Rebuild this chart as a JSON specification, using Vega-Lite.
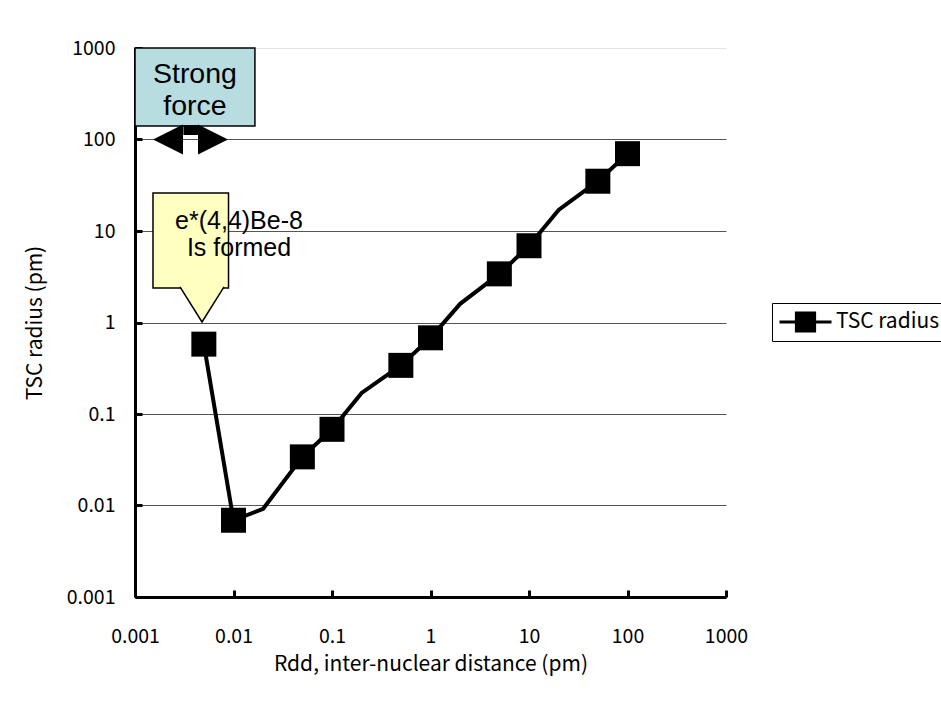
{
  "$schema": "https://vega.github.io/schema/vega-lite/v6.json",
  "width": 591,
  "height": 549,
  "autosize": {"type": "none"},
  "padding": {"left": 135, "top": 48, "right": 215, "bottom": 114},
  "background": "white",
  "config": {
    "font": "Liberation Sans",
    "view": {"stroke": null}
  },
  "datasets": {
    "curve": [
      {"x": 0.005, "y": 0.58, "series": "TSC radius"},
      {"x": 0.01, "y": 0.0069, "series": "TSC radius"},
      {"x": 0.02, "y": 0.0092, "series": "TSC radius"},
      {"x": 0.05, "y": 0.034, "series": "TSC radius"},
      {"x": 0.1, "y": 0.068, "series": "TSC radius"},
      {"x": 0.2, "y": 0.17, "series": "TSC radius"},
      {"x": 0.5, "y": 0.34, "series": "TSC radius"},
      {"x": 1, "y": 0.68, "series": "TSC radius"},
      {"x": 2, "y": 1.6, "series": "TSC radius"},
      {"x": 5, "y": 3.4, "series": "TSC radius"},
      {"x": 10, "y": 6.9, "series": "TSC radius"},
      {"x": 20, "y": 17, "series": "TSC radius"},
      {"x": 50, "y": 35, "series": "TSC radius"},
      {"x": 100, "y": 70, "series": "TSC radius"}
    ],
    "markers": [
      {"x": 0.005, "y": 0.58, "series": "TSC radius"},
      {"x": 0.01, "y": 0.0069, "series": "TSC radius"},
      {"x": 0.05, "y": 0.034, "series": "TSC radius"},
      {"x": 0.1, "y": 0.068, "series": "TSC radius"},
      {"x": 0.5, "y": 0.34, "series": "TSC radius"},
      {"x": 1, "y": 0.68, "series": "TSC radius"},
      {"x": 5, "y": 3.4, "series": "TSC radius"},
      {"x": 10, "y": 6.9, "series": "TSC radius"},
      {"x": 50, "y": 35, "series": "TSC radius"},
      {"x": 100, "y": 70, "series": "TSC radius"}
    ]
  },
  "encoding": {
    "x": {
      "field": "x",
      "type": "quantitative",
      "scale": {"type": "log", "domain": [0.001, 1000], "nice": false},
      "axis": {
        "title": "Rdd, inter-nuclear distance (pm)",
        "values": [0.001, 0.01, 0.1, 1, 10, 100, 1000],
        "format": "~g",
        "grid": false,
        "domainColor": "black",
        "domainWidth": 3,
        "tickColor": "black",
        "tickWidth": 3,
        "tickSize": -7,
        "labelPadding": 37,
        "labelFont": "Noto Sans CJK JP",
        "labelFontSize": 19.5,
        "labelColor": "black",
        "labelFlush": false,
        "labelOverlap": false,
        "labelBound": false,
        "titleFont": "Noto Sans CJK JP",
        "titleFontSize": 21,
        "titleFontWeight": "normal",
        "titleColor": "black",
        "titleY": 67,
        "titleBaseline": "middle"
      }
    },
    "y": {
      "field": "y",
      "type": "quantitative",
      "scale": {"type": "log", "domain": [0.001, 1000], "nice": false},
      "axis": {
        "title": "TSC radius (pm)",
        "values": [0.001, 0.01, 0.1, 1, 10, 100, 1000],
        "format": "~g",
        "grid": true,
        "gridColor": {"condition": {"test": "datum.value >= 1000", "value": "#e3e3e3"}, "value": "#555555"},
        "gridWidth": 1,
        "domainColor": "black",
        "domainWidth": 3,
        "tickColor": "black",
        "tickWidth": 3,
        "tickSize": -7,
        "labelPadding": 27,
        "labelFont": "Noto Sans CJK JP",
        "labelFontSize": 19.5,
        "labelColor": "black",
        "labelFlush": false,
        "labelOverlap": false,
        "labelBound": false,
        "titleFont": "Noto Sans CJK JP",
        "titleFontSize": 21,
        "titleFontWeight": "normal",
        "titleColor": "black",
        "titleX": -100,
        "titleY": 274.5,
        "titleAngle": -90,
        "titleAlign": "center",
        "titleBaseline": "middle"
      }
    }
  },
  "layer": [
    {
      "data": {"values": [{"x": 0.001, "x2": 0.0165, "y": 140.6, "y2": 1000}]},
      "mark": {"type": "rect", "fill": "#b7dde1", "stroke": "black", "strokeWidth": 1.5},
      "encoding": {"x2": {"field": "x2"}, "y2": {"field": "y2"}}
    },
    {
      "data": {"values": [{"x": 0.00406, "y": 520, "label": "Strong\nforce"}]},
      "mark": {"type": "text", "font": "Liberation Sans", "fontSize": 28.5, "lineBreak": "\n", "lineHeight": 32, "align": "center", "baseline": "middle", "color": "black"},
      "encoding": {"text": {"field": "label"}}
    },
    {
      "data": {"values": [{"x": 0.0031, "x2": 0.0044, "y": 127}]},
      "mark": {"type": "rule", "strokeWidth": 10, "color": "black"},
      "encoding": {"x2": {"field": "x2"}}
    },
    {
      "data": {"values": [{"x": 0.002163, "y": 100}]},
      "mark": {"type": "point", "shape": "M-1,0L1,-1L1,1Z", "size": 900, "filled": true, "color": "black", "opacity": 1},
      "encoding": {}
    },
    {
      "data": {"values": [{"x": 0.006194, "y": 100}]},
      "mark": {"type": "point", "shape": "M1,0L-1,-1L-1,1Z", "size": 900, "filled": true, "color": "black", "opacity": 1},
      "encoding": {}
    },
    {
      "data": {"values": [{"x": 0.001523, "x2": 0.0089, "y": 2.38, "y2": 26.0}]},
      "mark": {"type": "rect", "fill": "#ffffc0", "stroke": "black", "strokeWidth": 1.5},
      "encoding": {"x2": {"field": "x2"}, "y2": {"field": "y2"}}
    },
    {
      "data": {"values": [{"x": 0.00479, "y": 1.553}]},
      "mark": {"type": "point", "shape": "M-1,-0.82L0,0.773L1,-0.82", "size": 1936, "fill": "#ffffc0", "stroke": "black", "strokeWidth": 1.5, "opacity": 1, "fillOpacity": 1},
      "encoding": {}
    },
    {
      "data": {"values": [{"x": 0.01137, "y": 12.86, "label": "e*(4,4)Be-8\nIs formed"}]},
      "mark": {"type": "text", "font": "Liberation Sans", "fontSize": 25, "lineBreak": "\n", "lineHeight": 27, "align": "center", "baseline": "middle", "color": "black"},
      "encoding": {"text": {"field": "label"}}
    },
    {
      "data": {"name": "curve"},
      "mark": {"type": "line", "strokeWidth": 4, "interpolate": "linear"},
      "encoding": {
        "color": {
          "field": "series",
          "type": "nominal",
          "scale": {"domain": ["TSC radius"], "range": ["black"]},
          "legend": {
            "orient": "none",
            "legendX": 637,
            "legendY": 255,
            "title": null,
            "padding": 6,
            "strokeColor": "black",
            "fillColor": "white",
            "cornerRadius": 0,
            "symbolType": "M-1,0H1M-0.35,-0.35H0.35V0.35H-0.35Z",
            "symbolSize": 2704,
            "symbolStrokeWidth": 3,
            "symbolFillColor": "black",
            "symbolStrokeColor": "black",
            "symbolOpacity": 1,
            "clipHeight": 26,
            "labelFont": "Noto Sans CJK JP",
            "labelFontSize": 21,
            "labelOffset": 3,
            "labelColor": "black",
            "labelLimit": 300,
            "encode": {
              "symbols": {
                "update": {
                  "fill": {"value": "black"},
                  "stroke": {"value": "black"},
                  "strokeWidth": {"value": 3},
                  "opacity": {"value": 1},
                  "shape": {"value": "M-1,0H1M-0.35,-0.35H0.35V0.35H-0.35Z"},
                  "size": {"value": 2704}
                }
              }
            }
          }
        }
      }
    },
    {
      "data": {"name": "markers"},
      "mark": {"type": "point", "shape": "square", "size": 625, "filled": true, "opacity": 1},
      "encoding": {
        "color": {"field": "series", "type": "nominal"}
      }
    }
  ]
}
